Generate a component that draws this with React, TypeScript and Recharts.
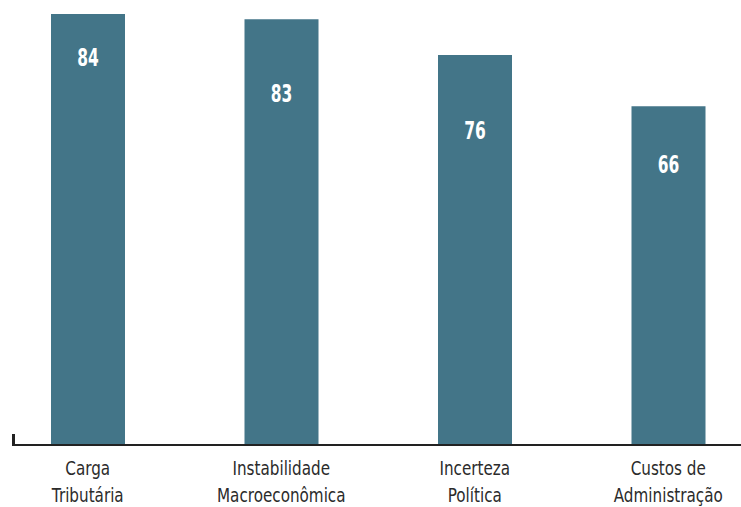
import React from "react";
import { BarChart, Bar, XAxis, YAxis, LabelList } from "recharts";

const categories = [
  "Carga\nTributária",
  "Instabilidade\nMacroeconômica",
  "Incerteza\nPolítica",
  "Custos de\nAdministração",
];
const values = [84, 83, 76, 66];

// label distance below each bar top (styling only)
const labelDrop = [44, 74, 76, 58];

const BAR_COLOR = "#437588";
const FONT = "'DejaVu Sans', sans-serif";

const data = categories.map((name, i) => ({ name, value: values[i] }));

// the original face is a tall condensed gothic; squeeze DejaVu horizontally
function CategoryTick(props: any) {
  const { x, y, payload } = props;
  const lines = String(payload.value).split("\n");
  return (
    <g transform={`translate(${x},${y}) scale(0.76,1)`}>
      <text x={0} y={0} textAnchor="middle" fill="#2b2b2b" fontFamily={FONT} fontSize={20}>
        {lines.map((line, i) => (
          <tspan key={i} x={0} dy={i === 0 ? 30 : 27}>
            {line}
          </tspan>
        ))}
      </text>
    </g>
  );
}

function ValueLabel(props: any) {
  const { x, y, width, value, index } = props;
  return (
    <g transform={`translate(${x + width / 2},${y + labelDrop[index]}) scale(0.62,1)`}>
      <text
        x={0}
        y={0}
        textAnchor="middle"
        dominantBaseline="central"
        fill="#ffffff"
        fontFamily={FONT}
        fontWeight="bold"
        fontSize={25}
      >
        {value}
      </text>
    </g>
  );
}

export default function App() {
  return (
    <div style={{ position: "absolute", left: 0, top: 0, width: 741, height: 507, background: "#fff" }}>
      <BarChart
        width={741}
        height={507}
        data={data}
        margin={{ top: 14, right: 0, left: 12, bottom: 0 }}
      >
        <YAxis hide domain={[0, 84]} />
        <XAxis
          dataKey="name"
          height={62}
          padding={{ left: -21, right: -24 }}
          axisLine={{ stroke: "#222", strokeWidth: 2 }}
          tickLine={false}
          tickSize={0}
          tickMargin={0}
          interval={0}
          tick={<CategoryTick />}
        />
        <Bar dataKey="value" fill={BAR_COLOR} barSize={74} isAnimationActive={false}>
          <LabelList dataKey="value" content={<ValueLabel />} />
        </Bar>
      </BarChart>
      <div
        style={{
          position: "absolute",
          left: 12,
          top: 434,
          width: 3,
          height: 12,
          background: "#222",
        }}
      />
    </div>
  );
}
